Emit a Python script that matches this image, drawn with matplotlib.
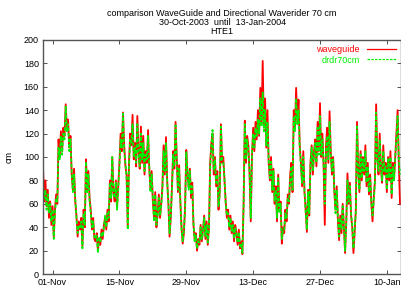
import numpy as np
import matplotlib
matplotlib.use('Agg')
import matplotlib.pyplot as plt
import matplotlib.dates as mdates

plt.rcParams['font.family'] = ['Liberation Sans', 'DejaVu Sans']

# 6-hourly readings, 30-Oct-2003 00:00 onwards (cm)
waveguide = [
    92, 62, 80, 58, 72, 48, 62, 42, 58, 32, 55, 68, 60, 115, 100, 122,
    105, 125, 118, 145, 125, 132, 108, 118, 85, 72, 90, 62, 50, 32, 45, 38,
    48, 24, 55, 40, 98, 72, 88, 65, 55, 38, 48, 30, 28, 35, 20, 30,
    25, 38, 30, 42, 48, 38, 55, 45, 80, 62, 100, 70, 62, 80, 58, 75,
    95, 120, 105, 138, 110, 92, 85, 40, 95, 120, 110, 136, 98, 112, 92, 135,
    105, 90, 126, 95, 118, 85, 105, 95, 123, 90, 72, 88, 62, 48, 70, 40,
    52, 68, 48, 60, 75, 110, 85, 117, 80, 60, 32, 48, 75, 105, 90, 130,
    100, 70, 93, 62, 40, 26, 35, 58, 106, 85, 75, 90, 65, 78, 42, 30,
    35, 20, 30, 25, 42, 28, 38, 50, 30, 45, 25, 40, 95, 112, 120, 85,
    100, 75, 88, 55, 70, 128, 95, 100, 80, 62, 48, 55, 38, 50, 35, 45,
    28, 42, 35, 25, 38, 22, 28, 17, 60, 131, 95, 118, 110, 85, 45, 100,
    125, 105, 130, 115, 140, 118, 159, 130, 182, 125, 150, 108, 140, 95, 80, 100,
    70, 90, 60, 75, 45, 85, 55, 62, 26, 40, 35, 55, 45, 68, 60, 85,
    95, 70, 140, 125, 159, 130, 149, 110, 95, 75, 105, 70, 55, 36, 72, 50,
    95, 110, 85, 105, 115, 92, 130, 105, 146, 100, 120, 92, 42, 110, 125, 95,
    139, 105, 85, 100, 70, 55, 75, 45, 29, 50, 35, 60, 40, 18, 45, 86,
    60, 78, 50, 40, 18, 35, 55, 130, 90, 70, 105, 80, 100, 85, 110, 75,
    95, 68, 85, 60, 45, 65, 80, 145, 100, 85, 120, 90, 78, 110, 85, 95,
    70, 100, 80, 105, 65, 95, 82, 100, 120, 140, 95, 60,
]
drdr70cm = [
    75, 65, 72, 55, 68, 52, 60, 45, 55, 30, 52, 65, 62, 108, 98, 118,
    102, 120, 115, 143, 122, 128, 105, 115, 88, 70, 85, 65, 48, 35, 42, 40,
    45, 22, 52, 42, 96, 70, 85, 62, 52, 40, 45, 32, 30, 33, 18, 32,
    27, 36, 32, 40, 50, 40, 52, 48, 78, 65, 100, 68, 65, 78, 55, 72,
    92, 115, 108, 137, 105, 95, 82, 38, 92, 115, 112, 128, 100, 108, 95, 128,
    102, 92, 120, 98, 112, 88, 102, 98, 118, 92, 70, 85, 65, 45, 68, 42,
    50, 65, 50, 58, 72, 105, 88, 112, 78, 62, 35, 50, 72, 102, 92, 127,
    98, 72, 90, 65, 38, 28, 38, 55, 104, 88, 72, 88, 68, 75, 45, 28,
    33, 22, 28, 27, 40, 30, 36, 48, 32, 42, 27, 38, 90, 110, 123, 88,
    98, 78, 85, 58, 68, 126, 98, 96, 82, 60, 50, 52, 40, 48, 37, 42,
    30, 40, 33, 27, 36, 24, 26, 18, 58, 128, 98, 115, 105, 88, 48, 102,
    120, 108, 125, 118, 132, 120, 150, 126, 155, 122, 140, 110, 130, 98, 82, 96,
    72, 88, 62, 72, 48, 82, 52, 60, 30, 38, 38, 52, 48, 65, 62, 80,
    92, 72, 135, 122, 150, 128, 140, 108, 92, 78, 100, 72, 52, 38, 70, 52,
    92, 108, 88, 102, 112, 95, 125, 102, 135, 102, 115, 95, 60, 105, 118, 98,
    130, 102, 88, 98, 72, 52, 72, 48, 32, 48, 38, 58, 42, 20, 42, 80,
    62, 75, 52, 42, 22, 38, 52, 126, 88, 72, 102, 82, 98, 88, 105, 78,
    92, 70, 82, 62, 50, 62, 78, 138, 98, 88, 115, 92, 80, 105, 88, 92,
    72, 98, 82, 100, 68, 92, 80, 98, 115, 135, 98, 85,
]
tick_days = ['2003-11-01', '2003-11-15', '2003-11-29', '2003-12-13', '2003-12-27', '2004-01-10']

def main():
    t = np.datetime64('2003-10-30T00:00') + np.arange(len(waveguide)) * np.timedelta64(6, 'h')

    fig = plt.figure(figsize=(4.02, 2.91), dpi=100)
    ax = fig.add_axes([0.107, 0.058, 0.891, 0.805])
    ax.plot(t, waveguide, color='#ff0000', lw=1.3, label='waveguide')
    ax.plot(t, drdr70cm, color='#00ee00', lw=1.3, ls=(0, (2, 1)), label='drdr70cm')

    ax.set_xlim(np.datetime64('2003-10-30T00:00'), np.datetime64('2004-01-13T00:00'))
    ax.set_ylim(0, 200)
    ax.set_yticks(np.arange(0, 201, 20))
    ax.set_xticks([np.datetime64(d) for d in tick_days])
    ax.xaxis.set_major_formatter(mdates.DateFormatter('%d-%b'))
    ax.tick_params(direction='in', length=3, width=0.6, labelsize=6.5,
                   top=True, right=True, pad=3, color='#333333')
    for s in ax.spines.values():
        s.set_color('#555555')
        s.set_linewidth(1.0)
    ax.set_ylabel('cm', fontsize=6.5, labelpad=7)
    ax.set_title('comparison WaveGuide and Directional Waverider 70 cm\n'
                 '30-Oct-2003  until  13-Jan-2004\nHTE1',
                 fontsize=6.5, linespacing=1.0, pad=4)
    leg = ax.legend(loc='upper right', frameon=False, markerfirst=False, fontsize=6.5,
                    labelcolor='linecolor', handlelength=3.2, handletextpad=0.8,
                    borderaxespad=0.2, labelspacing=0.15)
    for h in leg.legend_handles:
        h.set_linewidth(0.9)

    fig.savefig('out.png', dpi=100)

if __name__ == '__main__':
    main()
